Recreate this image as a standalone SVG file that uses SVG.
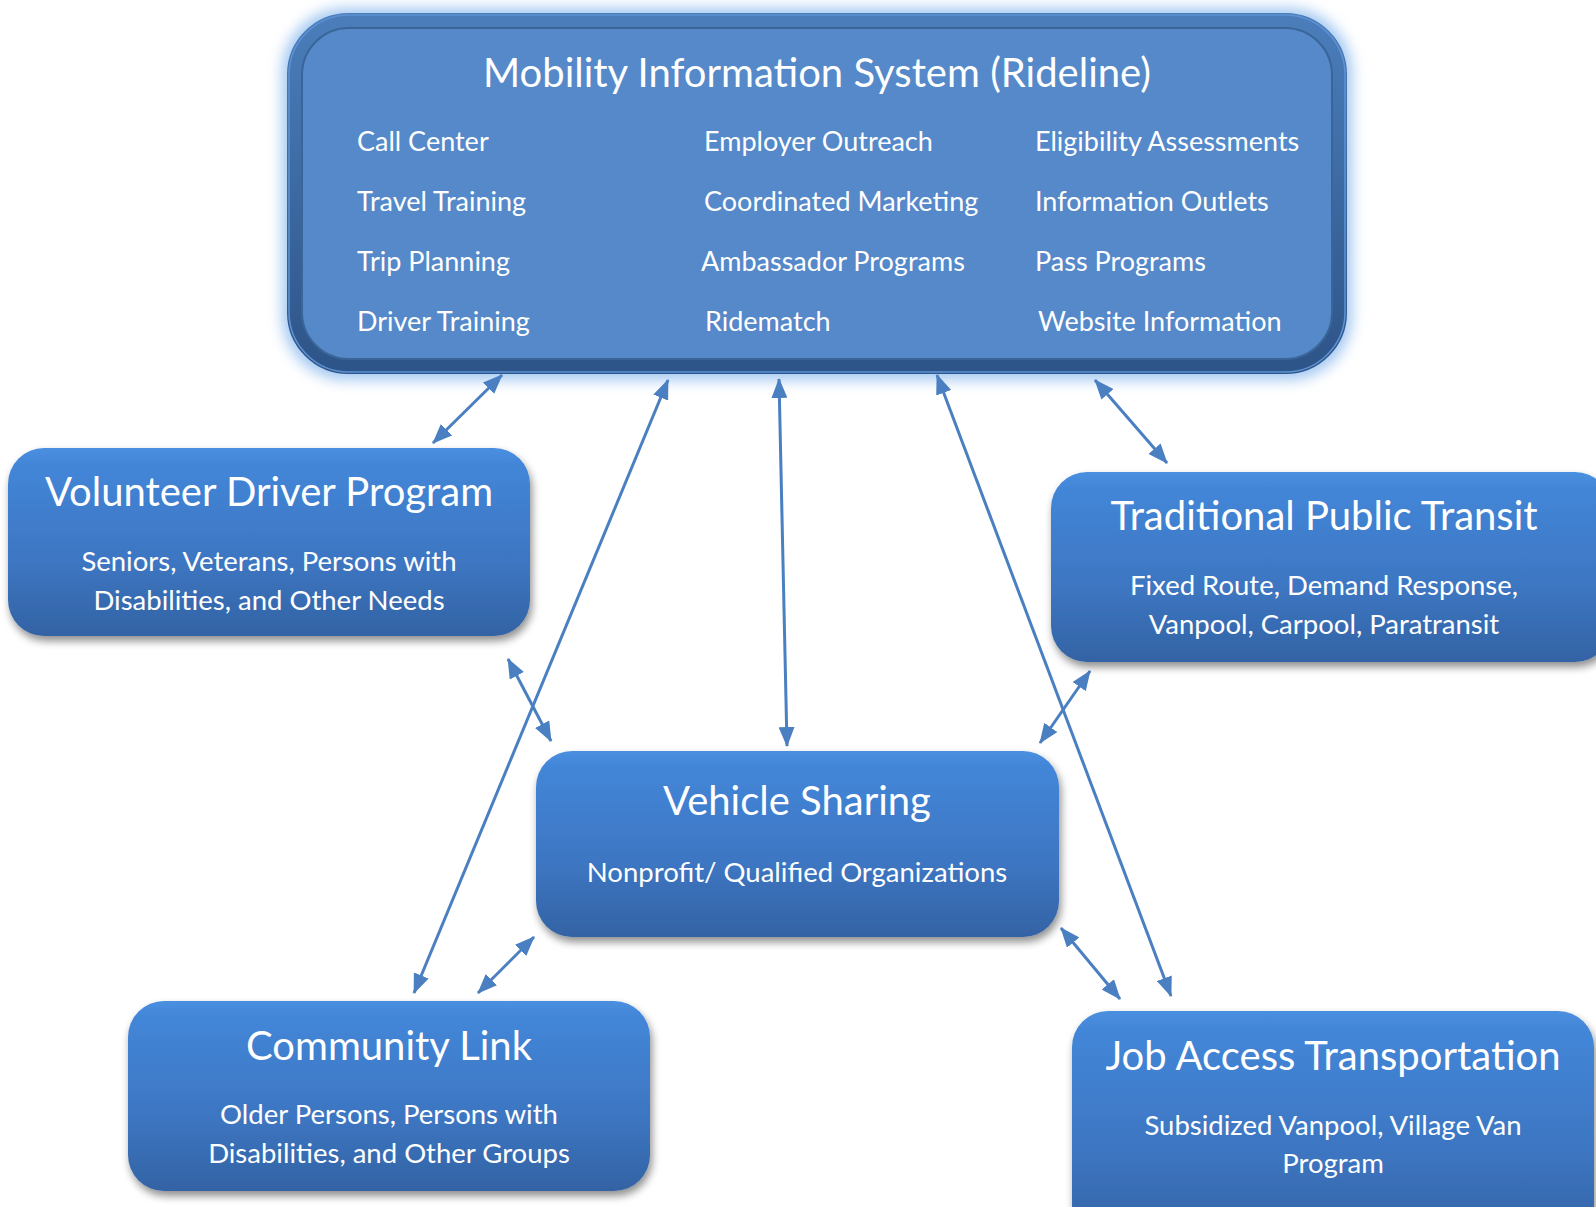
<svg xmlns="http://www.w3.org/2000/svg" width="1596" height="1207" viewBox="0 0 1596 1207">
<defs>
<linearGradient id="boxg" x1="0" y1="0" x2="0" y2="1">
<stop offset="0" stop-color="#4A8FE0"/>
<stop offset="0.08" stop-color="#4386D8"/>
<stop offset="0.6" stop-color="#3D76C2"/>
<stop offset="1" stop-color="#3363A4"/>
</linearGradient>
<linearGradient id="rimg" x1="0" y1="0" x2="0" y2="1">
<stop offset="0" stop-color="#4A7DBA"/>
<stop offset="1" stop-color="#2E5589"/>
</linearGradient>
<filter id="shadow" x="-10%" y="-10%" width="125%" height="130%">
<feGaussianBlur in="SourceAlpha" stdDeviation="4"/>
<feOffset dx="2" dy="5" result="b"/>
<feComponentTransfer><feFuncA type="linear" slope="0.45"/></feComponentTransfer>
<feMerge><feMergeNode/><feMergeNode in="SourceGraphic"/></feMerge>
</filter>
<filter id="glow" x="-10%" y="-20%" width="120%" height="140%">
<feGaussianBlur stdDeviation="7"/>
</filter>
<marker id="ah" viewBox="0 0 20 16" refX="19" refY="8" markerWidth="20" markerHeight="16" markerUnits="userSpaceOnUse" orient="auto-start-reverse">
<path d="M0,0 L20,8 L0,16 Z" fill="#4A7FC1"/>
</marker>
<style>
text{font-family:Lato,"Liberation Sans",sans-serif;fill:#FFFFFF}
.title{font-size:40px;text-anchor:middle}
.sub{font-size:27.5px;text-anchor:middle}
.item{font-size:27px}
.box{fill:url(#boxg);filter:url(#shadow)}
.conn{stroke:#4A7FC1;stroke-width:3;fill:none;marker-start:url(#ah);marker-end:url(#ah)}
</style>
</defs>
<rect width="1596" height="1207" fill="#FFFFFF"/>

<g id="top-mobility">
<rect x="282" y="8" width="1070" height="372" rx="64" fill="#A3C8F2" filter="url(#glow)"/>
<rect x="294.5" y="20.5" width="1045" height="346" rx="54" fill="#5589C9" stroke="url(#rimg)" stroke-width="15"/>
<rect x="289" y="15" width="1056" height="357" rx="60" fill="none" stroke="#5E92D2" stroke-width="1.5"/>
<rect x="302" y="28" width="1030" height="331" rx="47" fill="none" stroke="#3A6598" stroke-width="2"/>
<text class="title" x="817" y="87">Mobility Information System (Rideline)</text>
<text class="item" x="357" y="151">Call Center</text>
<text class="item" x="357" y="211">Travel Training</text>
<text class="item" x="357" y="271">Trip Planning</text>
<text class="item" x="357" y="331">Driver Training</text>
<text class="item" x="704" y="151">Employer Outreach</text>
<text class="item" x="704" y="211">Coordinated Marketing</text>
<text class="item" x="701" y="271">Ambassador Programs</text>
<text class="item" x="705" y="331">Ridematch</text>
<text class="item" x="1035" y="151">Eligibility Assessments</text>
<text class="item" x="1035" y="211">Information Outlets</text>
<text class="item" x="1035" y="271">Pass Programs</text>
<text class="item" x="1038" y="331">Website Information</text>
</g>

<g id="connectors">
<line class="conn" x1="433" y1="443" x2="502" y2="375"/>
<line class="conn" x1="668" y1="380" x2="414" y2="993"/>
<line class="conn" x1="779" y1="379" x2="787" y2="746"/>
<line class="conn" x1="937" y1="375" x2="1171" y2="996"/>
<line class="conn" x1="1095" y1="380" x2="1167" y2="463"/>
<line class="conn" x1="508" y1="659" x2="551" y2="741"/>
<line class="conn" x1="1090" y1="671" x2="1040" y2="743"/>
<line class="conn" x1="478" y1="993" x2="534" y2="937"/>
<line class="conn" x1="1061" y1="928" x2="1120" y2="999"/>
</g>

<g id="volunteer">
<rect class="box" x="8" y="448" width="522" height="188" rx="36"/>
<text class="title" x="269" y="506">Volunteer Driver Program</text>
<text class="sub" x="269" y="571">Seniors, Veterans, Persons with</text>
<text class="sub" x="269" y="610">Disabilities, and Other Needs</text>
</g>

<g id="traditional">
<rect class="box" x="1051" y="472" width="560" height="190" rx="36"/>
<text class="title" x="1324" y="530">Traditional Public Transit</text>
<text class="sub" x="1324" y="595">Fixed Route, Demand Response,</text>
<text class="sub" x="1324" y="634">Vanpool, Carpool, Paratransit</text>
</g>

<g id="vehicle">
<rect class="box" x="536" y="751" width="523" height="186" rx="36"/>
<text class="title" x="797" y="815">Vehicle Sharing</text>
<text class="sub" x="797" y="882">Nonprofit/ Qualified Organizations</text>
</g>

<g id="community">
<rect class="box" x="128" y="1001" width="522" height="190" rx="36"/>
<text class="title" x="389" y="1060">Community Link</text>
<text class="sub" x="389" y="1124">Older Persons, Persons with</text>
<text class="sub" x="389" y="1163">Disabilities, and Other Groups</text>
</g>

<g id="jobaccess">
<rect class="box" x="1072" y="1011" width="522" height="230" rx="36"/>
<text class="title" x="1333" y="1070">Job Access Transportation</text>
<text class="sub" x="1333" y="1135">Subsidized Vanpool, Village Van</text>
<text class="sub" x="1333" y="1173">Program</text>
</g>
</svg>
